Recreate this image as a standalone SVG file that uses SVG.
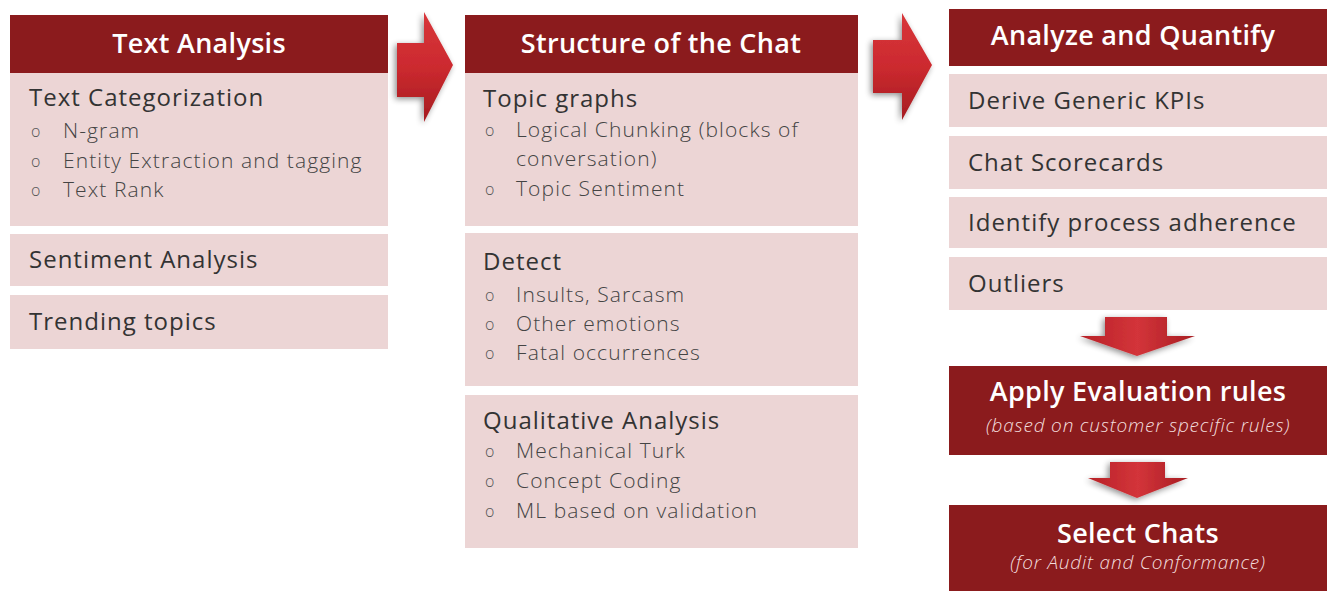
<svg xmlns="http://www.w3.org/2000/svg" width="1329" height="591" viewBox="0 0 1329 591">
<defs>
<linearGradient id="arrH" x1="0" y1="0" x2="0" y2="1">
<stop offset="0" stop-color="#d8363a"/><stop offset="0.5" stop-color="#cc2a2f"/><stop offset="1" stop-color="#a51c21"/>
</linearGradient>
<linearGradient id="arrV" x1="0" y1="0" x2="1" y2="0">
<stop offset="0" stop-color="#b82227"/><stop offset="0.5" stop-color="#d3343a"/><stop offset="1" stop-color="#a81d22"/>
</linearGradient>
<filter id="sh" x="-30%" y="-30%" width="160%" height="160%">
<feGaussianBlur in="SourceAlpha" stdDeviation="3"/>
<feOffset dx="-2" dy="2" result="b"/>
<feComponentTransfer><feFuncA type="linear" slope="0.45"/></feComponentTransfer>
<feMerge><feMergeNode/><feMergeNode in="SourceGraphic"/></feMerge>
</filter>
<style>
.hd{fill:#8b1b1d}
.bx{fill:#ecd5d5}
.ht{font-family:"Open Sans","Noto Sans",sans-serif;font-weight:600;font-size:27px;letter-spacing:0.3px;fill:#ffffff;text-anchor:middle}
.st{font-family:"Open Sans","Noto Sans",sans-serif;font-style:italic;font-weight:300;font-size:19px;letter-spacing:0.8px;fill:#f3dede;text-anchor:middle}
.h2{font-family:"Open Sans","Noto Sans",sans-serif;font-size:24px;letter-spacing:1px;fill:#333333}
.it{font-family:"Open Sans","Noto Sans",sans-serif;font-weight:300;font-size:21px;letter-spacing:1.1px;fill:#444444}
.bu{font-family:"Open Sans","Noto Sans",sans-serif;font-weight:300;font-size:16px;fill:#555555}
.arr{filter:url(#sh)}
</style>
</defs>
<rect width="1329" height="591" fill="#ffffff"/>

<g id="connectors">
<path class="arr" fill="url(#arrH)" d="M397,43 L424,43 L424,12 L453,65 L424,122 L424,97 L397,97 Z"/>
<path class="arr" fill="url(#arrH)" d="M873,40 L902,40 L902,13 L932,65 L902,120 L902,93 L873,93 Z"/>
<path class="arr" fill="url(#arrV)" d="M1105,317 L1167,317 L1167,336 L1195,336 L1137,356 L1080,336 L1105,336 Z"/>
<path class="arr" fill="url(#arrV)" d="M1110,462 L1165,462 L1165,478 L1188,478 L1137,498 L1088,478 L1110,478 Z"/>
</g>

<g id="text-analysis">
<rect class="hd" x="10" y="15" width="378" height="58"/>
<text class="ht" x="199" y="53">Text Analysis</text>
</g>
<g id="text-categorization">
<rect class="bx" x="10" y="73" width="378" height="153"/>
<text class="h2" x="29" y="106">Text Categorization</text>
<text class="bu" x="31" y="137">o</text><text class="it" x="63" y="138">N-gram</text>
<text class="bu" x="31" y="167">o</text><text class="it" x="63" y="168">Entity Extraction and tagging</text>
<text class="bu" x="31" y="196">o</text><text class="it" x="63" y="197">Text Rank</text>
</g>
<g id="sentiment-analysis">
<rect class="bx" x="10" y="234" width="378" height="52"/>
<text class="h2" x="29" y="268">Sentiment Analysis</text>
</g>
<g id="trending-topics">
<rect class="bx" x="10" y="295" width="378" height="54"/>
<text class="h2" x="29" y="330">Trending topics</text>
</g>

<g id="structure-of-chat">
<rect class="hd" x="465" y="15" width="393" height="58"/>
<text class="ht" x="661" y="53">Structure of the Chat</text>
</g>
<g id="topic-graphs">
<rect class="bx" x="465" y="73" width="393" height="153"/>
<text class="h2" x="483" y="107">Topic graphs</text>
<text class="bu" x="485" y="136">o</text><text class="it" x="516" y="137">Logical Chunking (blocks of</text>
<text class="it" x="516" y="166">conversation)</text>
<text class="bu" x="485" y="195">o</text><text class="it" x="516" y="196">Topic Sentiment</text>
</g>
<g id="detect">
<rect class="bx" x="465" y="233" width="393" height="153"/>
<text class="h2" x="483" y="270">Detect</text>
<text class="bu" x="485" y="301">o</text><text class="it" x="516" y="302">Insults, Sarcasm</text>
<text class="bu" x="485" y="330">o</text><text class="it" x="516" y="331">Other emotions</text>
<text class="bu" x="485" y="359">o</text><text class="it" x="516" y="360">Fatal occurrences</text>
</g>
<g id="qualitative-analysis">
<rect class="bx" x="465" y="395" width="393" height="153"/>
<text class="h2" x="483" y="429">Qualitative Analysis</text>
<text class="bu" x="485" y="457">o</text><text class="it" x="516" y="458">Mechanical Turk</text>
<text class="bu" x="485" y="487">o</text><text class="it" x="516" y="488">Concept Coding</text>
<text class="bu" x="485" y="517">o</text><text class="it" x="516" y="518">ML based on validation</text>
</g>

<g id="analyze-quantify">
<rect class="hd" x="949" y="9" width="378" height="57"/>
<text class="ht" x="1133" y="45">Analyze and Quantify</text>
</g>
<g id="derive-kpis">
<rect class="bx" x="949" y="74" width="378" height="53"/>
<text class="h2" x="968" y="109">Derive Generic KPIs</text>
</g>
<g id="chat-scorecards">
<rect class="bx" x="949" y="136" width="378" height="53"/>
<text class="h2" x="968" y="171">Chat Scorecards</text>
</g>
<g id="process-adherence">
<rect class="bx" x="949" y="197" width="378" height="51"/>
<text class="h2" x="968" y="231">Identify process adherence</text>
</g>
<g id="outliers">
<rect class="bx" x="949" y="257" width="378" height="53"/>
<text class="h2" x="968" y="292">Outliers</text>
</g>
<g id="apply-evaluation">
<rect class="hd" x="949" y="366" width="378" height="89"/>
<text class="ht" x="1138" y="401">Apply Evaluation rules</text>
<text class="st" x="1138" y="432">(based on customer specific rules)</text>
</g>
<g id="select-chats">
<rect class="hd" x="949" y="505" width="378" height="86"/>
<text class="ht" x="1138" y="543">Select Chats</text>
<text class="st" x="1138" y="569">(for Audit and Conformance)</text>
</g>
</svg>
